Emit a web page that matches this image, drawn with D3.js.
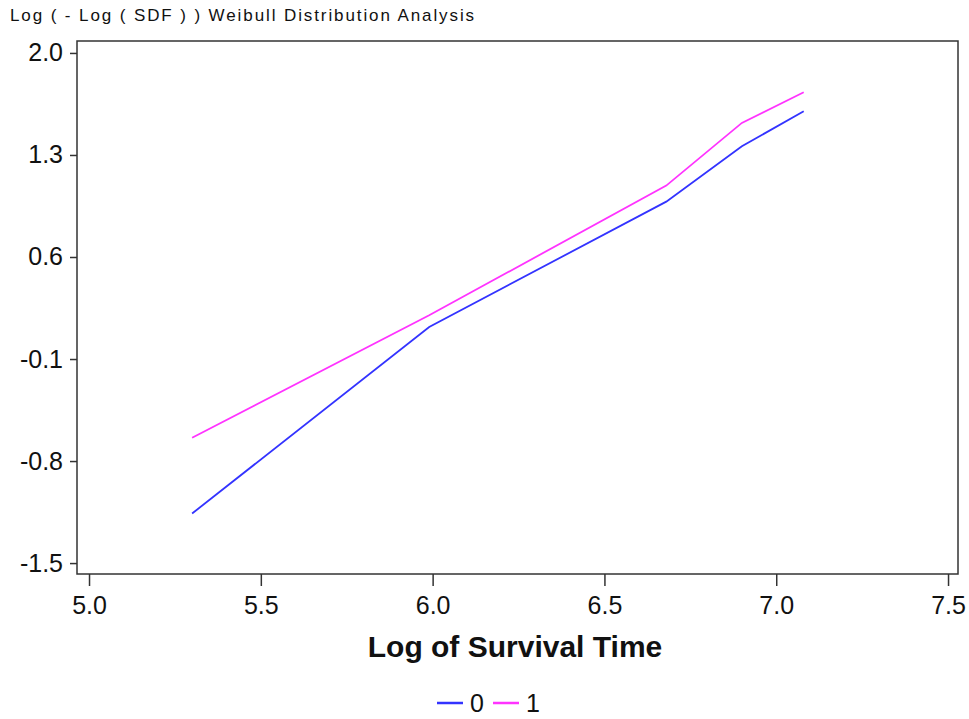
<!DOCTYPE html>
<meta charset="utf-8">
<style>
body { margin: 0; background: #fff; }
text { font-family: "Liberation Sans", Arial, sans-serif; fill: #111; }
.tick line { stroke: #333; stroke-width: 1.5px; }
.tick text { font-size: 25px; }
.line { fill: none; stroke-width: 1.8px; }
</style>
<body>
<script src="https://d3js.org/d3.v7.min.js"></script>
<script>

// data
var logTime = [5.30, 5.99, 6.68, 6.90, 7.08];
var group0 = [-1.16, 0.12, 0.98, 1.36, 1.60];
var group1 = [-0.64, 0.20, 1.09, 1.52, 1.73];
var groups = ["0", "1"];
var colors = ["#3333ff", "#ff33ff"];
var xTicks = [5.0, 5.5, 6.0, 6.5, 7.0, 7.5];
var yTicks = [-1.5, -0.8, -0.1, 0.6, 1.3, 2.0];

var W = 969, H = 719;
var plotL = 77, plotR = 958, plotT = 41, plotB = 574;

var x = d3.scaleLinear().domain([4.965, 7.529]).range([plotL, plotR]);
var y = d3.scaleLinear().domain([-1.575, 2.082]).range([plotB, plotT]);

// plain hyphen for negatives, like the original
var fmt = function(d) { return d.toFixed(1); };

var svg = d3.select("body").append("svg")
    .attr("width", W)
    .attr("height", H);

// title
svg.append("text")
    .attr("x", 10)
    .attr("y", 21)
    .style("font-size", "17px")
    .style("letter-spacing", "1.9px")
    .text("Log ( - Log ( SDF ) ) Weibull Distribution Analysis");

// axes
var xAxis = svg.append("g")
    .attr("transform", "translate(0," + plotB + ")")
    .call(d3.axisBottom(x).tickValues(xTicks).tickFormat(fmt).tickSize(12).tickPadding(10));
xAxis.select(".domain").remove();

var yAxis = svg.append("g")
    .attr("transform", "translate(" + plotL + ",0)")
    .call(d3.axisLeft(y).tickValues(yTicks).tickFormat(fmt).tickSize(7).tickPadding(7));
yAxis.select(".domain").remove();

// frame
svg.append("rect")
    .attr("x", plotL)
    .attr("y", plotT)
    .attr("width", plotR - plotL)
    .attr("height", plotB - plotT)
    .attr("fill", "none")
    .attr("stroke", "#333")
    .attr("stroke-width", 1.5);

// lines
var line = d3.line()
    .x(function(d) { return x(d[0]); })
    .y(function(d) { return y(d[1]); });

[group0, group1].forEach(function(vals, i) {
  svg.append("path")
      .datum(d3.zip(logTime, vals))
      .attr("class", "line")
      .style("stroke", colors[i])
      .attr("d", line);
});

// x label
svg.append("text")
    .attr("x", 515)
    .attr("y", 657)
    .attr("text-anchor", "middle")
    .style("font-size", "30px")
    .style("font-weight", "bold")
    .text("Log of Survival Time");

// legend
var leg = svg.append("g").attr("transform", "translate(437,703)");
var lx = 0;
groups.forEach(function(g, i) {
  leg.append("line")
      .attr("x1", lx).attr("x2", lx + 26)
      .attr("y1", 0).attr("y2", 0)
      .style("stroke", colors[i])
      .style("stroke-width", 2.5);
  leg.append("text")
      .attr("x", lx + 33)
      .attr("y", 9)
      .style("font-size", "25px")
      .text(g);
  lx += 56;
});

</script>
</body>
